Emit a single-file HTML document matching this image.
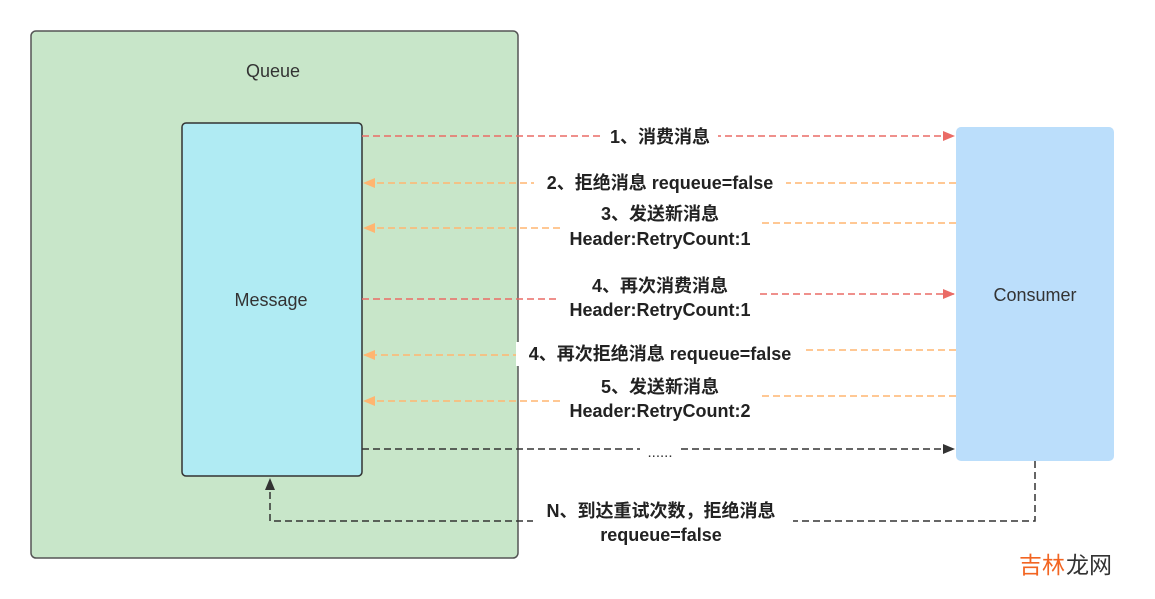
<!DOCTYPE html>
<html><head><meta charset="utf-8"><style>
html,body{margin:0;padding:0;background:#fff;}
svg{display:block;}
text{font-family:"Liberation Sans","Noto Sans CJK SC",sans-serif;}
.b{font-weight:bold;font-size:18px;fill:#222;}
</style></head><body>
<svg width="1155" height="599" viewBox="0 0 1155 599">
<defs>
<marker id="r" markerWidth="12" markerHeight="12" refX="11" refY="6" orient="auto" markerUnits="userSpaceOnUse"><path d="M0,1 L12,6 L0,11 Z" fill="#EA6B66"/></marker>
<marker id="o" markerWidth="12" markerHeight="12" refX="11" refY="6" orient="auto" markerUnits="userSpaceOnUse"><path d="M0,1 L12,6 L0,11 Z" fill="#FFB570"/></marker>
<marker id="k" markerWidth="12" markerHeight="12" refX="11" refY="6" orient="auto" markerUnits="userSpaceOnUse"><path d="M0,1 L12,6 L0,11 Z" fill="#333"/></marker>
</defs>
<rect x="31" y="31" width="487" height="527" rx="5" fill="#C8E6C9" stroke="#555" stroke-width="1.5"/>
<text x="273" y="77" font-size="18" fill="#333" text-anchor="middle">Queue</text>
<rect x="182" y="123" width="180" height="353" rx="4" fill="#B0EBF3" stroke="#333" stroke-width="1.5"/>
<text x="271" y="306" font-size="18" fill="#333" text-anchor="middle">Message</text>
<rect x="956" y="127" width="158" height="334" rx="5" fill="#BBDEFB"/>
<text x="1035" y="301" font-size="18" fill="#333" text-anchor="middle">Consumer</text>
<g fill="none" stroke-width="1.5" stroke-dasharray="7,4">
<path d="M362,136 H954" stroke="#EA6B66" marker-end="url(#r)"/>
<path d="M956,183 H364" stroke="#FFB570" marker-end="url(#o)"/>
<path d="M956,223 H760 M560,228 H364" stroke="#FFB570" marker-end="url(#o)"/>
<path d="M362,299 H560 M760,294 H954" stroke="#EA6B66" marker-end="url(#r)"/>
<path d="M956,350 H800 M520,355 H364" stroke="#FFB570" marker-end="url(#o)"/>
<path d="M956,396 H760 M560,401 H364" stroke="#FFB570" marker-end="url(#o)"/>
<path d="M362,449 H954" stroke="#333" marker-end="url(#k)"/>
<path d="M1035,461 V521 H270 V479" stroke="#333" marker-end="url(#k)"/>
</g>
<g>
<rect x="602" y="125" width="116" height="24" fill="#fff"/>
<text class="b" x="660" y="143" text-anchor="middle">1、消费消息</text>
<rect x="534" y="171" width="252" height="24" fill="#fff"/>
<text class="b" x="660" y="189" text-anchor="middle">2、拒绝消息 requeue=false</text>
<text class="b" x="660" y="220" text-anchor="middle">3、发送新消息</text>
<text class="b" x="660" y="245" text-anchor="middle">Header:RetryCount:1</text>
<text class="b" x="660" y="292" text-anchor="middle">4、再次消费消息</text>
<text class="b" x="660" y="316" text-anchor="middle">Header:RetryCount:1</text>
<rect x="516" y="342" width="288" height="24" fill="#fff"/>
<text class="b" x="660" y="360" text-anchor="middle">4、再次拒绝消息 requeue=false</text>
<text class="b" x="660" y="393" text-anchor="middle">5、发送新消息</text>
<text class="b" x="660" y="417" text-anchor="middle">Header:RetryCount:2</text>
<rect x="640" y="440" width="40" height="18" fill="#fff"/>
<text x="660" y="457" font-size="15" fill="#333" text-anchor="middle">......</text>
<rect x="533" y="500" width="260" height="24" fill="#fff"/>
<text class="b" x="661" y="517" text-anchor="middle">N、到达重试次数，拒绝消息</text>
<text class="b" x="661" y="541" text-anchor="middle">requeue=false</text>
</g>
<text x="1019" y="573" font-size="23" fill="#F26522">吉林</text>
<text x="1066" y="573" font-size="23" fill="#333">龙网</text>
</svg>
</body></html>
